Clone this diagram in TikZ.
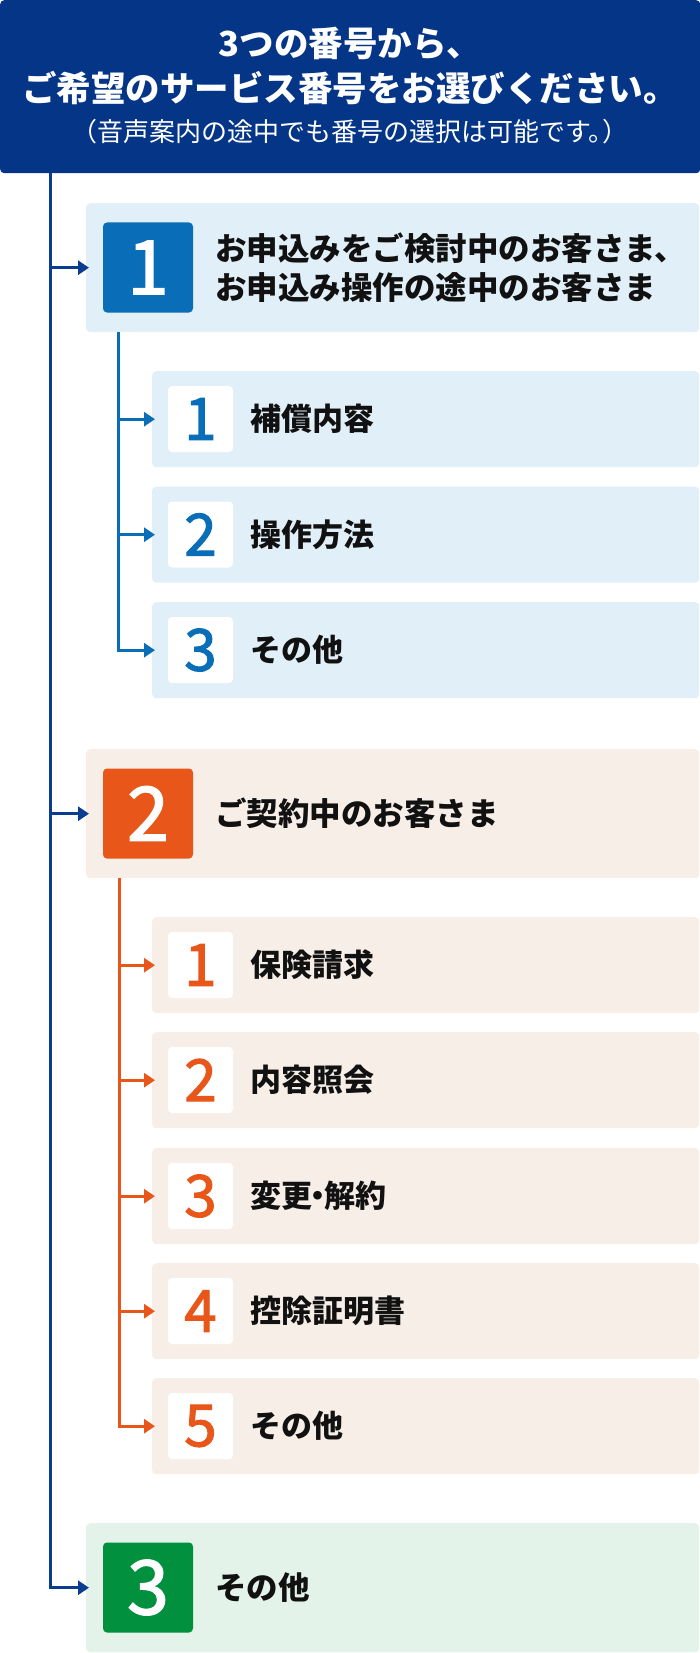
\documentclass[tikz,border=0pt]{standalone}
\usepackage{fontspec}
\setmainfont{Noto Sans CJK JP}
\newfontfamily\digfont{Noto Sans CJK JP}[FakeBold=2]
\usetikzlibrary{arrows.meta}
\definecolor{hdrnavy}{HTML}{043587}
\definecolor{trunkc}{HTML}{0A3C90}
\definecolor{bluedk}{HTML}{0A6DB7}
\definecolor{bluelt}{HTML}{E1EFF8}
\definecolor{orgdk}{HTML}{E8561A}
\definecolor{orglt}{HTML}{F8EEE8}
\definecolor{grndk}{HTML}{00903E}
\definecolor{grnlt}{HTML}{E3F3EA}
\definecolor{inkc}{HTML}{111111}
\begin{document}
\begin{tikzpicture}[x=1pt,y=-1pt,
 hdrbox/.style={rectangle,rounded corners=4pt,inner sep=0pt,anchor=north west,minimum width=700pt,minimum height=173pt,fill=hdrnavy},
 hdrbig/.style={inner sep=0pt,text=white,font=\bfseries\fontsize{34.5}{34.5}\selectfont},
 hdrsmall/.style={inner sep=0pt,text=white,font=\fontsize{26}{26}\selectfont},
 topbox/.style={rectangle,rounded corners=4pt,inner sep=0pt,anchor=north west,minimum width=613pt,minimum height=129pt},
 subbox/.style={rectangle,rounded corners=4pt,inner sep=0pt,anchor=north west,minimum width=547pt,minimum height=96pt},
 bigsq/.style={rectangle,rounded corners=4pt,inner sep=0pt,minimum size=90pt,text=white,font=\digfont\fontsize{75}{75}\selectfont},
 smallsq/.style={rectangle,rounded corners=4pt,inner sep=0pt,minimum width=65pt,minimum height=66pt,fill=white,font=\digfont\fontsize{58}{58}\selectfont},
 toptext/.style={anchor=west,inner sep=0pt,align=left,text=inkc,font=\bfseries\fontsize{31.5}{39.5}\selectfont},
 subtext/.style={anchor=west,inner sep=0pt,text=inkc,font=\bfseries\fontsize{31}{31}\selectfont},
 link/.style={line width=3pt,-{Triangle[length=11pt,width=14pt]}},
]
\useasboundingbox (0,0) rectangle (700,1653);

% header
\node[hdrbox] (hdr) at (0,0) {};
\node[hdrbig] (h1) at (350,43.5) {3つの番号から、};
\node[hdrbig] (h2) at (350,88.5) {ご希望のサービス番号をお選びください。};
\node[hdrsmall] (h3) at (350,132) {（音声案内の途中でも番号の選択は可能です。\hspace{-0.45em}）};

% level 1 : 1
\node[topbox,fill=bluelt] (A) at (86,203) {};
\node[bigsq,fill=bluedk] (Asq) at (148,267.5) {1};
\node[toptext] (Atx) at (215,267.5) {お申込みをご検討中のお客さま、\\お申込み操作の途中のお客さま};

\node[subbox,fill=bluelt] (A1) at (152,371) {};
\node[smallsq,text=bluedk] (A1sq) at (200.5,419) {1};
\node[subtext] (A1tx) at (250,419) {補償内容};

\node[subbox,fill=bluelt] (A2) at (152,486.5) {};
\node[smallsq,text=bluedk] (A2sq) at (200.5,534.5) {2};
\node[subtext] (A2tx) at (250,534.5) {操作方法};

\node[subbox,fill=bluelt] (A3) at (152,602) {};
\node[smallsq,text=bluedk] (A3sq) at (200.5,650) {3};
\node[subtext] (A3tx) at (250,650) {その他};

% level 1 : 2
\node[topbox,fill=orglt] (B) at (86,749) {};
\node[bigsq,fill=orgdk] (Bsq) at (148,813.5) {2};
\node[toptext] (Btx) at (215,813.5) {ご契約中のお客さま};

\node[subbox,fill=orglt] (B1) at (152,917) {};
\node[smallsq,text=orgdk] (B1sq) at (200.5,965) {1};
\node[subtext] (B1tx) at (250,965) {保険請求};

\node[subbox,fill=orglt] (B2) at (152,1032) {};
\node[smallsq,text=orgdk] (B2sq) at (200.5,1080) {2};
\node[subtext] (B2tx) at (250,1080) {内容照会};

\node[subbox,fill=orglt] (B3) at (152,1148) {};
\node[smallsq,text=orgdk] (B3sq) at (200.5,1196) {3};
\node[subtext] (B3tx) at (250,1196) {変更\hspace{-0.3em}・\hspace{-0.3em}解約};

\node[subbox,fill=orglt] (B4) at (152,1263) {};
\node[smallsq,text=orgdk] (B4sq) at (200.5,1311) {4};
\node[subtext] (B4tx) at (250,1311) {控除証明書};

\node[subbox,fill=orglt] (B5) at (152,1378) {};
\node[smallsq,text=orgdk] (B5sq) at (200.5,1426) {5};
\node[subtext] (B5tx) at (250,1426) {その他};

% level 1 : 3
\node[topbox,fill=grnlt] (C) at (86,1523) {};
\node[bigsq,fill=grndk] (Csq) at (148,1587.5) {3};
\node[toptext] (Ctx) at (215,1587.5) {その他};

% connectors
\coordinate (trunk) at (50,0);
\coordinate (bsub) at (118,0);
\coordinate (osub) at (119,0);
\draw[link,trunkc] (hdr.south -| trunk) |- ([xshift=3pt]A.west);
\draw[link,trunkc] (hdr.south -| trunk) |- ([xshift=3pt]B.west);
\draw[link,trunkc] (hdr.south -| trunk) |- ([xshift=3pt]C.west);

\draw[link,bluedk] (A.south -| bsub) |- ([xshift=3pt]A1.west);
\draw[link,bluedk] (A.south -| bsub) |- ([xshift=3pt]A2.west);
\draw[link,bluedk] (A.south -| bsub) |- ([xshift=3pt]A3.west);

\draw[link,orgdk] (B.south -| osub) |- ([xshift=3pt]B1.west);
\draw[link,orgdk] (B.south -| osub) |- ([xshift=3pt]B2.west);
\draw[link,orgdk] (B.south -| osub) |- ([xshift=3pt]B3.west);
\draw[link,orgdk] (B.south -| osub) |- ([xshift=3pt]B4.west);
\draw[link,orgdk] (B.south -| osub) |- ([xshift=3pt]B5.west);
\end{tikzpicture}
\end{document}
